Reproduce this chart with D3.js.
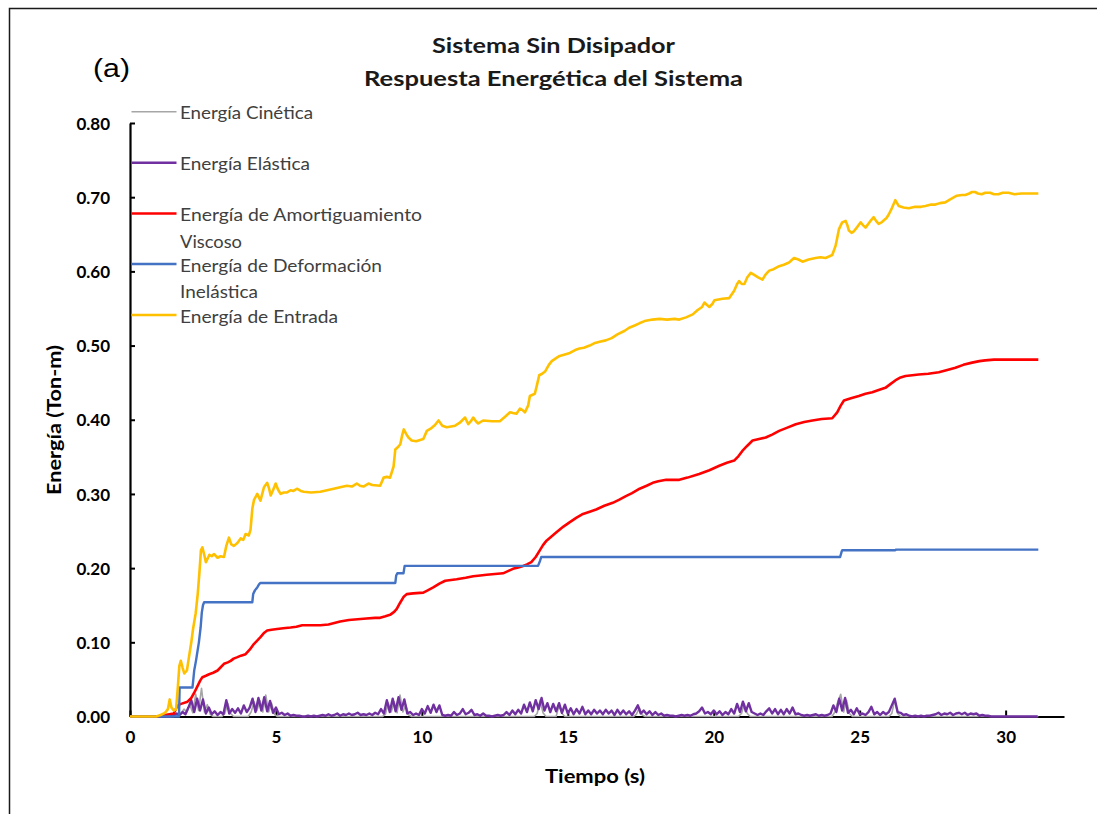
<!DOCTYPE html>
<html>
<head>
<meta charset="utf-8">
<script src="https://cdn.jsdelivr.net/npm/d3@7"></script>
<style>
  html, body { margin: 0; padding: 0; background: #fff; }
  svg { display: block; }
</style>
</head>
<body>
<svg id="chart" width="1097" height="814"></svg>
<script>
// ---- Data: energy components (Ton-m) vs time (s) ----
const seriesNames = ["Energía Cinética", "Energía Elástica", "Energía de Amortiguamiento Viscoso",
                     "Energía de Deformación Inelástica", "Energía de Entrada"];

// Elastic energy sampled every 0.1 s from t = 0 to 31.1 s
const elasticStep = 0.1;
const elasticValues = [
  0,0,0,0,0,0,0,0,0,0,
  0,0,0,0,0,.002,.004,.002,.006,.003,
  .012,.022,.006,.024,.008,.023,.004,.012,.003,.007,
  .002,.006,.003,.022,.004,.010,.005,.011,.004,.015,
  .006,.012,.024,.006,.025,.008,.026,.007,.021,.005,
  .012,.003,.005,.002,.004,.001,.002,.001,.001,0,
  0,.001,0,.001,0,.001,.002,.001,.003,.001,
  .002,.004,.001,.003,.002,.004,.002,.003,.005,.002,
  .003,.002,.004,.002,.005,.003,.010,.004,.022,.006,
  .024,.007,.026,.009,.023,.004,.006,.002,.004,.002,
  .010,.004,.014,.005,.016,.006,.015,.002,.001,.002,
  .001,.006,.002,.004,.010,.003,.005,.009,.002,.003,
  .001,.004,.001,.001,0,.001,.002,.001,.002,.006,
  .002,.008,.003,.009,.004,.016,.006,.019,.007,.022,
  .010,.025,.008,.018,.006,.017,.007,.018,.005,.016,
  .004,.011,.003,.010,.004,.013,.003,.008,.003,.009,
  .004,.008,.003,.009,.004,.008,.002,.009,.003,.008,
  .003,.007,.002,.008,.015,.004,.008,.003,.007,.002,
  .006,.002,.004,.001,.002,.001,.001,0,.001,.002,
  .001,.002,.001,.003,.004,.007,.012,.004,.006,.003,
  .008,.003,.007,.002,.006,.003,.010,.004,.017,.006,
  .020,.007,.018,.006,.004,.002,.004,.002,.007,.011,
  .004,.010,.003,.009,.003,.010,.004,.012,.003,.004,
  .002,.001,.002,.001,.002,.003,.001,.002,.001,.002,
  .004,.015,.006,.024,.008,.025,.005,.009,.003,.011,
  .003,.004,.002,.006,.013,.003,.006,.002,.006,.003,
  .006,.015,.024,.006,.005,.002,.003,.001,0,.001,
  0,.001,0,.001,.001,.002,.003,.005,.002,.004,
  .003,.005,.002,.004,.005,.003,.005,.002,.004,.003,
  .004,.001,.002,.001,.001,0,0,0,0,0,
  0,0,0,0,0,0,0,0,0,0,
  0,0
];

// Kinetic energy [t, E]
const kinetic = [
  [0,0],[1.5,0],[1.75,.004],[1.85,.010],[1.95,.006],[2.05,.016],[2.15,.005],[2.25,.030],
  [2.35,.008],[2.45,.038],[2.55,.006],[2.65,.016],[2.75,.003],[2.85,0],[3.15,0],[3.25,.004],
  [3.35,.018],[3.45,.004],[3.55,0],[4.05,0],[4.15,.006],[4.25,.020],[4.35,.008],[4.45,.022],
  [4.55,.006],[4.65,.029],[4.75,.006],[4.85,.018],[4.95,.003],[5.05,0],[8.65,0],[8.75,.003],
  [8.85,.018],[8.95,.006],[9.05,.020],[9.15,.005],[9.25,.029],[9.35,.006],[9.45,.016],
  [9.55,.002],[9.65,0],[13.85,0],[13.95,.004],[14.05,.022],[14.15,.005],[14.25,0],[14.6,0],
  [14.7,.015],[14.8,.004],[14.9,0],[17.25,0],[17.35,.003],[17.45,.012],[17.55,.002],[17.65,0],
  [20.85,0],[20.95,.004],[21.05,.017],[21.15,.004],[21.25,0],[24.05,0],[24.15,.006],
  [24.25,.020],[24.35,.030],[24.45,.006],[24.55,.022],[24.65,.004],[24.75,0],[26.0,0],
  [26.1,.004],[26.2,.022],[26.3,.004],[26.4,0],[31.12,0]
];

// Viscous damping energy [t, E]
const viscous = [
  [0,0],[1.0,0],[1.2,.002],[1.5,.004],[1.63,.015],[1.75,.017],[1.97,.020],[2.1,.025],[2.2,.032],
  [2.3,.040],[2.4,.048],[2.48,.053],[2.6,.055],[2.71,.057],[2.85,.059],[3.0,.062],[3.1,.066],
  [3.22,.071],[3.35,.073],[3.45,.075],[3.55,.078],[3.68,.080],[3.8,.082],[3.96,.084],[4.1,.090],
  [4.25,.098],[4.35,.102],[4.47,.107],[4.6,.113],[4.7,.116],[4.85,.117],[5.04,.118],[5.25,.119],
  [5.5,.120],[5.7,.121],[5.9,.123],[6.2,.123],[6.52,.123],[6.8,.124],[7.0,.126],[7.2,.128],
  [7.5,.130],[7.8,.131],[8.1,.132],[8.4,.133],[8.57,.133],[8.75,.135],[8.91,.137],[9.05,.141],
  [9.14,.145],[9.25,.153],[9.37,.161],[9.48,.165],[9.7,.166],[10.05,.167],[10.2,.170],
  [10.39,.174],[10.6,.179],[10.8,.183],[11.0,.184],[11.19,.185],[11.5,.187],[11.76,.189],
  [12.0,.190],[12.22,.191],[12.5,.192],[12.78,.193],[12.95,.196],[13.12,.199],[13.3,.201],
  [13.47,.203],[13.6,.205],[13.75,.208],[13.9,.215],[14.04,.224],[14.15,.231],[14.27,.237],
  [14.45,.243],[14.6,.248],[14.85,.256],[15.07,.262],[15.3,.268],[15.52,.273],[15.75,.276],
  [15.97,.279],[16.25,.284],[16.54,.288],[16.75,.292],[16.99,.297],[17.2,.301],[17.46,.307],
  [17.7,.311],[17.91,.315],[18.1,.317],[18.37,.319],[18.6,.319],[18.82,.319],[19.1,.322],
  [19.5,.327],[19.85,.332],[20.19,.338],[20.45,.342],[20.7,.345],[20.85,.351],[20.98,.358],
  [21.15,.365],[21.33,.372],[21.55,.374],[21.78,.376],[22.0,.380],[22.24,.385],[22.5,.389],
  [22.81,.394],[23.1,.397],[23.38,.399],[23.7,.401],[24.06,.402],[24.23,.410],[24.35,.419],
  [24.46,.426],[24.7,.429],[24.97,.432],[25.2,.435],[25.43,.437],[25.65,.440],[25.88,.443],
  [26.05,.448],[26.22,.453],[26.4,.457],[26.57,.459],[26.8,.460],[27.02,.461],[27.35,.462],
  [27.71,.464],[28.0,.467],[28.28,.470],[28.55,.474],[28.85,.477],[29.1,.479],[29.3,.480],
  [29.6,.481],[30.5,.481],[31.12,.481]
];

// Inelastic deformation energy [t, E]
const inelastic = [
  [0,0],[1.68,0],[1.70,.039],[2.14,.039],[2.17,.050],[2.2,.062],[2.26,.075],[2.3,.085],
  [2.36,.100],[2.42,.120],[2.46,.140],[2.5,.150],[2.54,.154],[4.19,.154],[4.22,.165],
  [4.28,.170],[4.36,.174],[4.42,.178],[4.47,.180],[9.09,.180],[9.12,.190],[9.16,.193],
  [9.37,.193],[9.41,.203],[13.98,.203],[14.05,.210],[14.09,.215],[24.33,.215],[24.38,.222],
  [24.4,.224],[26.2,.224],[26.25,.225],[31.12,.225]
];

// Input energy [t, E]
const input = [
  [0,0],[0.9,0],[1.05,.002],[1.2,.005],[1.3,.010],[1.36,.023],[1.42,.012],[1.5,.008],[1.58,.010],
  [1.64,.040],[1.69,.068],[1.74,.075],[1.8,.066],[1.86,.058],[1.95,.062],[2.02,.080],[2.1,.100],
  [2.16,.118],[2.25,.139],[2.32,.165],[2.38,.195],[2.43,.224],[2.48,.228],[2.53,.220],[2.6,.208],
  [2.65,.212],[2.72,.218],[2.8,.216],[2.88,.219],[3.0,.214],[3.1,.216],[3.22,.215],[3.3,.230],
  [3.39,.241],[3.47,.232],[3.56,.230],[3.68,.234],[3.79,.240],[3.88,.238],[3.96,.246],[4.07,.244],
  [4.13,.252],[4.19,.280],[4.25,.292],[4.36,.300],[4.47,.291],[4.59,.309],[4.7,.315],[4.76,.308],
  [4.82,.298],[4.9,.305],[4.99,.314],[5.07,.306],[5.16,.300],[5.27,.302],[5.38,.302],[5.5,.305],
  [5.6,.304],[5.72,.307],[5.85,.304],[5.95,.303],[6.2,.302],[6.52,.303],[6.75,.305],[6.98,.307],
  [7.2,.309],[7.43,.311],[7.6,.310],[7.77,.314],[7.88,.311],[8.0,.310],[8.17,.314],[8.3,.312],
  [8.57,.311],[8.69,.322],[8.8,.323],[8.91,.322],[9.03,.337],[9.09,.360],[9.2,.364],[9.26,.367],
  [9.33,.380],[9.38,.387],[9.46,.381],[9.54,.376],[9.65,.372],[9.8,.371],[10.05,.374],[10.17,.385],
  [10.3,.388],[10.45,.393],[10.57,.399],[10.7,.392],[10.85,.390],[11.0,.391],[11.14,.392],
  [11.3,.396],[11.48,.403],[11.59,.394],[11.68,.398],[11.76,.403],[11.85,.398],[11.93,.395],
  [12.1,.399],[12.4,.398],[12.67,.398],[12.85,.404],[13.02,.410],[13.12,.409],[13.24,.408],
  [13.36,.415],[13.45,.413],[13.53,.410],[13.64,.419],[13.7,.432],[13.87,.435],[13.95,.448],
  [14.02,.460],[14.12,.462],[14.22,.465],[14.35,.474],[14.45,.479],[14.6,.483],[14.72,.486],
  [14.9,.488],[15.07,.490],[15.25,.494],[15.4,.496],[15.55,.497],[15.75,.500],[15.9,.503],
  [16.09,.505],[16.3,.507],[16.5,.510],[16.7,.515],[16.95,.520],[17.1,.524],[17.29,.527],
  [17.45,.530],[17.63,.533],[17.9,.535],[18.14,.536],[18.4,.535],[18.65,.536],[18.82,.535],
  [19.05,.538],[19.28,.542],[19.45,.548],[19.6,.552],[19.68,.558],[19.76,.555],[19.85,.552],
  [19.95,.556],[20.02,.561],[20.3,.563],[20.53,.564],[20.7,.574],[20.8,.583],[20.87,.587],
  [20.96,.583],[21.05,.583],[21.15,.592],[21.27,.598],[21.4,.595],[21.52,.592],[21.67,.589],
  [21.78,.596],[21.9,.601],[22.05,.603],[22.24,.607],[22.4,.609],[22.58,.612],[22.75,.618],
  [22.9,.616],[23.04,.613],[23.25,.616],[23.49,.618],[23.65,.619],[23.83,.618],[24.06,.622],
  [24.17,.634],[24.23,.645],[24.29,.657],[24.4,.666],[24.52,.668],[24.58,.662],[24.63,.655],
  [24.72,.652],[24.8,.654],[24.92,.660],[25.03,.666],[25.12,.662],[25.2,.659],[25.35,.667],
  [25.48,.673],[25.56,.668],[25.65,.664],[25.75,.666],[25.83,.669],[25.92,.672],[26.0,.677],
  [26.1,.685],[26.22,.696],[26.28,.692],[26.34,.688],[26.5,.686],[26.68,.685],[26.9,.687],
  [27.1,.687],[27.25,.688],[27.45,.690],[27.59,.690],[27.75,.692],[27.93,.693],[28.1,.697],
  [28.33,.702],[28.5,.703],[28.62,.703],[28.75,.705],[28.85,.707],[28.95,.707],[29.05,.705],
  [29.18,.704],[29.3,.706],[29.47,.706],[29.6,.704],[29.75,.704],[29.9,.706],[30.1,.706],
  [30.3,.704],[30.55,.705],[30.8,.705],[31.12,.705]
];

const xTicks = [0, 5, 10, 15, 20, 25, 30];
const yTicks = [0, 0.1, 0.2, 0.3, 0.4, 0.5, 0.6, 0.7, 0.8];

// ---- Layout ----
const svg = d3.select("#chart");
const plot = { left: 130, right: 1064, top: 123, bottom: 716.5 };
const x = d3.scaleLinear().domain([0, 32]).range([plot.left, plot.right]);
const y = d3.scaleLinear().domain([0, 0.8]).range([plot.bottom, plot.top]);

const FONT = "Lato, 'Open Sans', sans-serif";

// outer frame
svg.append("rect")
  .attr("x", 9.5).attr("y", 8.5).attr("width", 1200).attr("height", 900)
  .attr("fill", "none").attr("stroke", "#1a1a1a").attr("stroke-width", 1.5);

// titles
const title = svg.append("g").attr("font-family", FONT).attr("font-weight", 700)
  .attr("fill", "#1a1a1a").attr("text-anchor", "middle");
title.append("text").attr("x", 553.5).attr("y", 53).attr("font-size", 21)
  .attr("textLength", 243).attr("lengthAdjust", "spacingAndGlyphs").text("Sistema Sin Disipador");
title.append("text").attr("x", 553.5).attr("y", 86).attr("font-size", 21)
  .attr("textLength", 379).attr("lengthAdjust", "spacingAndGlyphs").text("Respuesta Energética del Sistema");

svg.append("text").attr("x", 93).attr("y", 76.5)
  .attr("font-family", "'Liberation Sans', Arial, sans-serif").attr("font-size", 26)
  .attr("textLength", 37).attr("lengthAdjust", "spacingAndGlyphs").attr("fill", "#000").text("(a)");

// axes (inward ticks)
const xAxis = d3.axisBottom(x).tickValues(xTicks).tickSizeInner(-6).tickSizeOuter(0).tickPadding(14)
  .tickFormat(d3.format("d"));
const yAxis = d3.axisLeft(y).tickValues(yTicks).tickSizeInner(-5).tickSizeOuter(0).tickPadding(20)
  .tickFormat(d3.format(".2f"));

const gx = svg.append("g").attr("transform", `translate(0,${plot.bottom})`).call(xAxis);
const gy = svg.append("g").attr("transform", `translate(${plot.left},0)`).call(yAxis);
[gx, gy].forEach(g => {
  g.select(".domain").attr("stroke", "#000").attr("stroke-width", 2.2);
  g.selectAll(".tick line").attr("stroke", "#000").attr("stroke-width", 2);
  g.selectAll(".tick text").attr("font-family", FONT).attr("font-weight", 700)
    .attr("font-size", 17).attr("fill", "#000");
});
gy.selectAll(".tick text").attr("dy", "0.36em");
gx.selectAll(".tick text").attr("dy", "0.71em");

// axis titles
svg.append("text").attr("x", 595).attr("y", 783).attr("text-anchor", "middle")
  .attr("font-family", FONT).attr("font-weight", 700).attr("font-size", 18)
  .attr("textLength", 100).attr("lengthAdjust", "spacingAndGlyphs").text("Tiempo (s)");
svg.append("text").attr("transform", "translate(61,420) rotate(-90)").attr("text-anchor", "middle")
  .attr("font-family", FONT).attr("font-weight", 700).attr("font-size", 18)
  .attr("textLength", 150).attr("lengthAdjust", "spacingAndGlyphs").text("Energía (Ton-m)");

// ---- Series ----
const elastic = elasticValues.map((v, i) => [+(i * elasticStep).toFixed(2), v]);
const line = d3.line().x(d => x(d[0])).y(d => y(d[1]));

const series = [
  { data: kinetic,   color: "#A6A6A6", width: 1.6 },
  { data: elastic,   color: "#7030A0", width: 2.4 },
  { data: viscous,   color: "#FF0000", width: 2.6 },
  { data: inelastic, color: "#4472C4", width: 2.4 },
  { data: input,     color: "#FFC000", width: 2.6 }
];
svg.append("g").selectAll("path").data(series).join("path")
  .attr("d", s => line(s.data)).attr("fill", "none")
  .attr("stroke", s => s.color).attr("stroke-width", s => s.width)
  .attr("stroke-linejoin", "round");

// ---- Legend ----
const legendRows = [
  { lines: ["Energía Cinética"], widths: [133], y: 111.7 },
  { lines: ["Energía Elástica"], widths: [130], y: 162.7 },
  { lines: ["Energía de Amortiguamiento", "Viscoso"], widths: [242, 62], y: 213.5 },
  { lines: ["Energía de Deformación", "Inelástica"], widths: [202, 78], y: 264 },
  { lines: ["Energía de Entrada"], widths: [158], y: 315 }
];
const lg = svg.append("g").attr("font-family", FONT).attr("font-size", 18).attr("fill", "#404040");
legendRows.forEach((r, i) => {
  lg.append("line").attr("x1", 131.5).attr("x2", 176.5).attr("y1", r.y).attr("y2", r.y)
    .attr("stroke", series[i].color).attr("stroke-width", series[i].width);
  r.lines.forEach((t, j) => {
    lg.append("text").attr("x", 180).attr("y", r.y + 7.5 + j * 26.5)
      .attr("textLength", r.widths[j]).attr("lengthAdjust", "spacingAndGlyphs").text(t);
  });
});
</script>
</body>
</html>
